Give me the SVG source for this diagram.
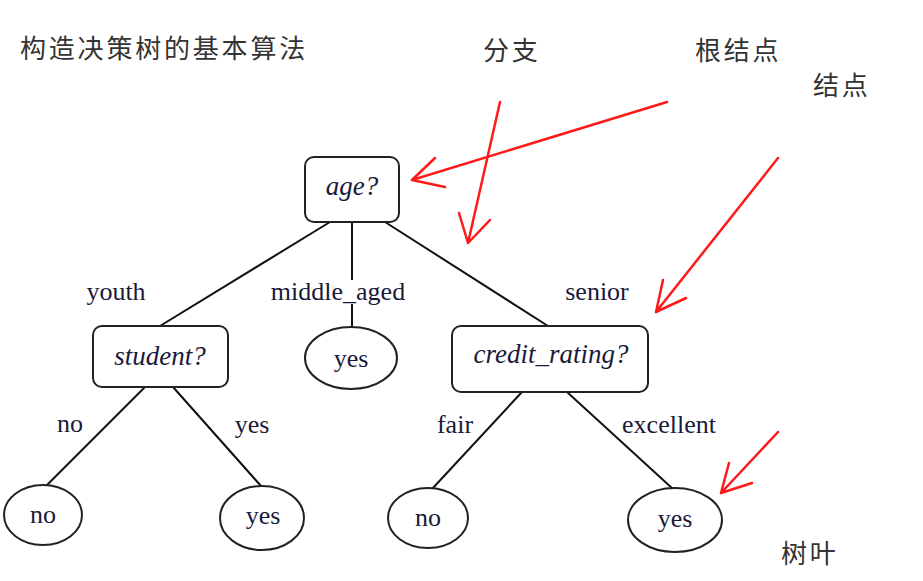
<svg xmlns="http://www.w3.org/2000/svg" width="923" height="581" viewBox="0 0 923 581">
<style>
.box{fill:#fff;stroke:#222;stroke-width:2}
.leaf{fill:#fff;stroke:#222;stroke-width:2}
.edge{stroke:#111;stroke-width:2;fill:none}
.red{stroke:#ff1a1a;stroke-width:2.5;fill:none;stroke-linecap:round;stroke-linejoin:round}
.nt{font-family:"Liberation Serif","Times New Roman",serif;font-size:27px;font-style:italic;fill:#1a1a3a;text-anchor:middle}
.lt{font-family:"Liberation Serif","Times New Roman",serif;font-size:26px;fill:#1a1a3a;text-anchor:middle}
.el{font-family:"Liberation Serif","Times New Roman",serif;font-size:26px;fill:#1a1a3a;text-anchor:middle}
.cn{font-family:"Noto Sans CJK SC","Noto Sans",sans-serif;font-size:26px;fill:#333;letter-spacing:2.8px}
</style>
<rect width="923" height="581" fill="#fff"/>
<g id="connectors">
<line class="edge" x1="330" y1="222" x2="160" y2="326"/>
<line class="edge" x1="352" y1="222" x2="352" y2="280"/>
<line class="edge" x1="352" y1="304" x2="352" y2="327"/>
<line class="edge" x1="385" y1="222" x2="548" y2="326"/>
<line class="edge" x1="145" y1="387" x2="46" y2="486"/>
<line class="edge" x1="173" y1="387" x2="261" y2="486"/>
<line class="edge" x1="522" y1="392" x2="432" y2="489"/>
<line class="edge" x1="567" y1="392" x2="673" y2="489"/>
<text class="el" x="116" y="300">youth</text>
<text class="el" x="338" y="300">middle_aged</text>
<text class="el" x="597" y="300">senior</text>
<text class="el" x="70" y="432">no</text>
<text class="el" x="252" y="433">yes</text>
<text class="el" x="455" y="433">fair</text>
<text class="el" x="669" y="433">excellent</text>
</g>
<g id="node-age">
<rect class="box" x="305" y="157" width="94" height="65" rx="9"/>
<text class="nt" x="352" y="195">age?</text>
</g>
<g id="node-student">
<rect class="box" x="93" y="326" width="135" height="61" rx="9"/>
<text class="nt" x="160" y="365">student?</text>
</g>
<g id="node-middle-yes">
<ellipse class="leaf" cx="351" cy="358" rx="46" ry="31"/>
<text class="lt" x="351" y="367">yes</text>
</g>
<g id="node-credit">
<rect class="box" x="452" y="326" width="196" height="66" rx="9"/>
<text class="nt" x="551" y="363">credit_rating?</text>
</g>
<g id="node-leaf-no-1">
<ellipse class="leaf" cx="43" cy="515" rx="39" ry="30"/>
<text class="lt" x="43" y="523">no</text>
</g>
<g id="node-leaf-yes-1">
<ellipse class="leaf" cx="262" cy="518" rx="42" ry="32"/>
<text class="lt" x="263" y="524">yes</text>
</g>
<g id="node-leaf-no-2">
<ellipse class="leaf" cx="428" cy="518" rx="40" ry="30"/>
<text class="lt" x="428" y="526">no</text>
</g>
<g id="node-leaf-yes-2">
<ellipse class="leaf" cx="675" cy="520" rx="47" ry="32"/>
<text class="lt" x="675" y="527">yes</text>
</g>
<g id="annotations">
<path class="red" d="M667,102 L412,180 M435,158 L412,180 L445,187"/>
<path class="red" d="M500,102 L468,243 M459,213 L468,243 L490,220"/>
<path class="red" d="M778,158 L656,312 M663,280 L656,312 L686,298"/>
<path class="red" d="M778,432 L721,493 M729,463 L721,493 L752,483"/>
<text class="cn" x="20" y="58">构造决策树的基本算法</text>
<text class="cn" x="483" y="60">分支</text>
<text class="cn" x="695" y="60">根结点</text>
<text class="cn" x="813" y="95">结点</text>
<text class="cn" x="781" y="563">树叶</text>
</g>
</svg>
